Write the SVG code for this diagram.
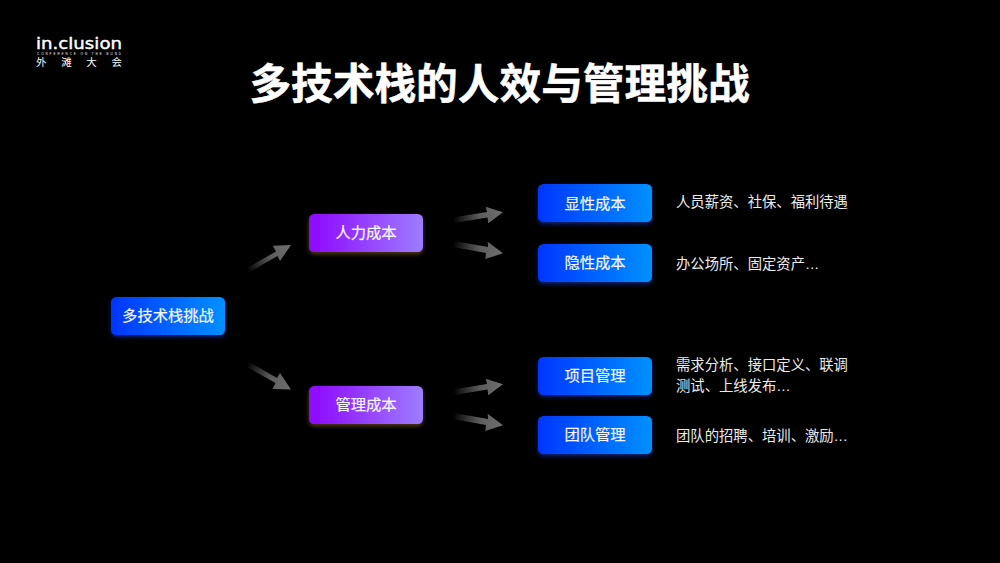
<svg xmlns="http://www.w3.org/2000/svg" width="1000" height="563" viewBox="0 0 1000 563">
<defs>
<linearGradient id="blue" x1="0" y1="0" x2="1" y2="0"><stop offset="0" stop-color="#0035ff"/><stop offset="1" stop-color="#0090ff"/></linearGradient>
<linearGradient id="purple" x1="0" y1="0" x2="1" y2="0"><stop offset="0" stop-color="#8d06ff"/><stop offset="1" stop-color="#9d7dff"/></linearGradient>
<linearGradient id="a1" gradientUnits="userSpaceOnUse" x1="247" y1="270" x2="291" y2="245"><stop offset="0" stop-color="#6a6a6a" stop-opacity="0"/><stop offset=".55" stop-color="#5e5e5e"/><stop offset="1" stop-color="#6e6e6e"/></linearGradient>
<linearGradient id="a2" gradientUnits="userSpaceOnUse" x1="247" y1="364" x2="291" y2="389"><stop offset="0" stop-color="#6a6a6a" stop-opacity="0"/><stop offset=".55" stop-color="#5e5e5e"/><stop offset="1" stop-color="#6e6e6e"/></linearGradient>
<linearGradient id="a3" gradientUnits="userSpaceOnUse" x1="453" y1="220" x2="503" y2="212"><stop offset="0" stop-color="#6a6a6a" stop-opacity="0"/><stop offset=".55" stop-color="#5e5e5e"/><stop offset="1" stop-color="#6e6e6e"/></linearGradient>
<linearGradient id="a4" gradientUnits="userSpaceOnUse" x1="453" y1="244" x2="503" y2="253"><stop offset="0" stop-color="#6a6a6a" stop-opacity="0"/><stop offset=".55" stop-color="#5e5e5e"/><stop offset="1" stop-color="#6e6e6e"/></linearGradient>
<linearGradient id="a5" gradientUnits="userSpaceOnUse" x1="453" y1="392" x2="503" y2="384"><stop offset="0" stop-color="#6a6a6a" stop-opacity="0"/><stop offset=".55" stop-color="#5e5e5e"/><stop offset="1" stop-color="#6e6e6e"/></linearGradient>
<linearGradient id="a6" gradientUnits="userSpaceOnUse" x1="453" y1="416" x2="503" y2="425"><stop offset="0" stop-color="#6a6a6a" stop-opacity="0"/><stop offset=".55" stop-color="#5e5e5e"/><stop offset="1" stop-color="#6e6e6e"/></linearGradient>
<filter id="gb" x="-10%" y="-20%" width="120%" height="150%"><feDropShadow dx="0" dy="2" stdDeviation="2" flood-color="#0a2a9a" flood-opacity=".8"/></filter>
<filter id="gp" x="-10%" y="-20%" width="120%" height="150%"><feDropShadow dx="0" dy="2" stdDeviation="2" flood-color="#6b4a20" flood-opacity=".8"/></filter>
</defs>
<style>
text{font-family:"Liberation Sans","Noto Sans CJK SC",sans-serif;fill:#fff}
.n{font-size:15.3px;text-anchor:middle;fill:#f6f6ff;stroke:#f6f6ff;stroke-width:.2}
.d{font-size:14.33px;fill:#ececec}
.b{fill:url(#blue);filter:url(#gb)}
.p{fill:url(#purple);filter:url(#gp)}
</style>
<rect width="1000" height="563" fill="#000"/>
<g id="logo">
<text x="36" y="49" font-size="15" stroke="#fff" stroke-width=".4" style="font-family:'DejaVu Sans',sans-serif" textLength="86" lengthAdjust="spacingAndGlyphs">in.clusion</text>
<text x="37" y="54.500" font-size="3" textLength="84" fill="#ccc">CONFERENCE ON THE BUND</text>
<text x="36" y="66" font-size="10.500" textLength="86">外 滩 大 会</text>
</g>
<text id="title" x="499.500" y="99" font-size="41.7" font-weight="700" text-anchor="middle" stroke="#fff" stroke-width=".5">多技术栈的人效与管理挑战</text>
<g id="connectors">
<polygon fill="url(#a1)" points="247,268 276,251.500 272.700,245.700 291,245 280,261 277.500,256 249,272.500"/>
<polygon fill="url(#a2)" points="249,362 277,378 280,373 291,389.500 272.500,389 275.500,383 247,367"/>
<polygon fill="url(#a3)" points="453,217.500 487,212 485.700,206.700 503,212.300 488.300,223.300 487.500,217.500 454,223"/>
<polygon fill="url(#a4)" points="454,241 488,247 487.700,241.700 503,253.300 485.300,259 486,253 453,247"/>
<polygon fill="url(#a5)" points="453,389.500 487,384 485.700,378.700 503,384.300 488.300,395.300 487.500,389.500 454,395"/>
<polygon fill="url(#a6)" points="454,413 488,419 487.700,413.700 503,425.300 485.300,431 486,425 453,419"/>
</g>
<g id="node-root"><rect class="b" x="111" y="297" width="114" height="38" rx="5.500"/><text class="n" x="168" y="321">多技术栈挑战</text></g>
<g id="node-hr"><rect class="p" x="309" y="214" width="114" height="38" rx="5.500"/><text class="n" x="366" y="238">人力成本</text></g>
<g id="node-mgmt"><rect class="p" x="309" y="386" width="114" height="38" rx="5.500"/><text class="n" x="366" y="410">管理成本</text></g>
<g id="node-explicit"><rect class="b" x="538" y="184" width="114" height="38" rx="5.500"/><text class="n" x="595" y="208.500">显性成本</text></g>
<g id="node-implicit"><rect class="b" x="538" y="244" width="114" height="38" rx="5.500"/><text class="n" x="595" y="268">隐性成本</text></g>
<g id="node-project"><rect class="b" x="538" y="357" width="114" height="38" rx="5.500"/><text class="n" x="595" y="381">项目管理</text></g>
<g id="node-team"><rect class="b" x="538" y="416" width="114" height="38" rx="5.500"/><text class="n" x="595" y="440">团队管理</text></g>
<g id="labels">
<text class="d" x="676" y="207">人员薪资、社保、福利待遇</text>
<text class="d" x="676" y="269">办公场所、固定资产…</text>
<text class="d" x="676" y="370">需求分析、接口定义、联调</text>
<text class="d" x="676" y="391">测试、上线发布…</text>
<text class="d" x="676" y="441">团队的招聘、培训、激励…</text>
</g>
</svg>
